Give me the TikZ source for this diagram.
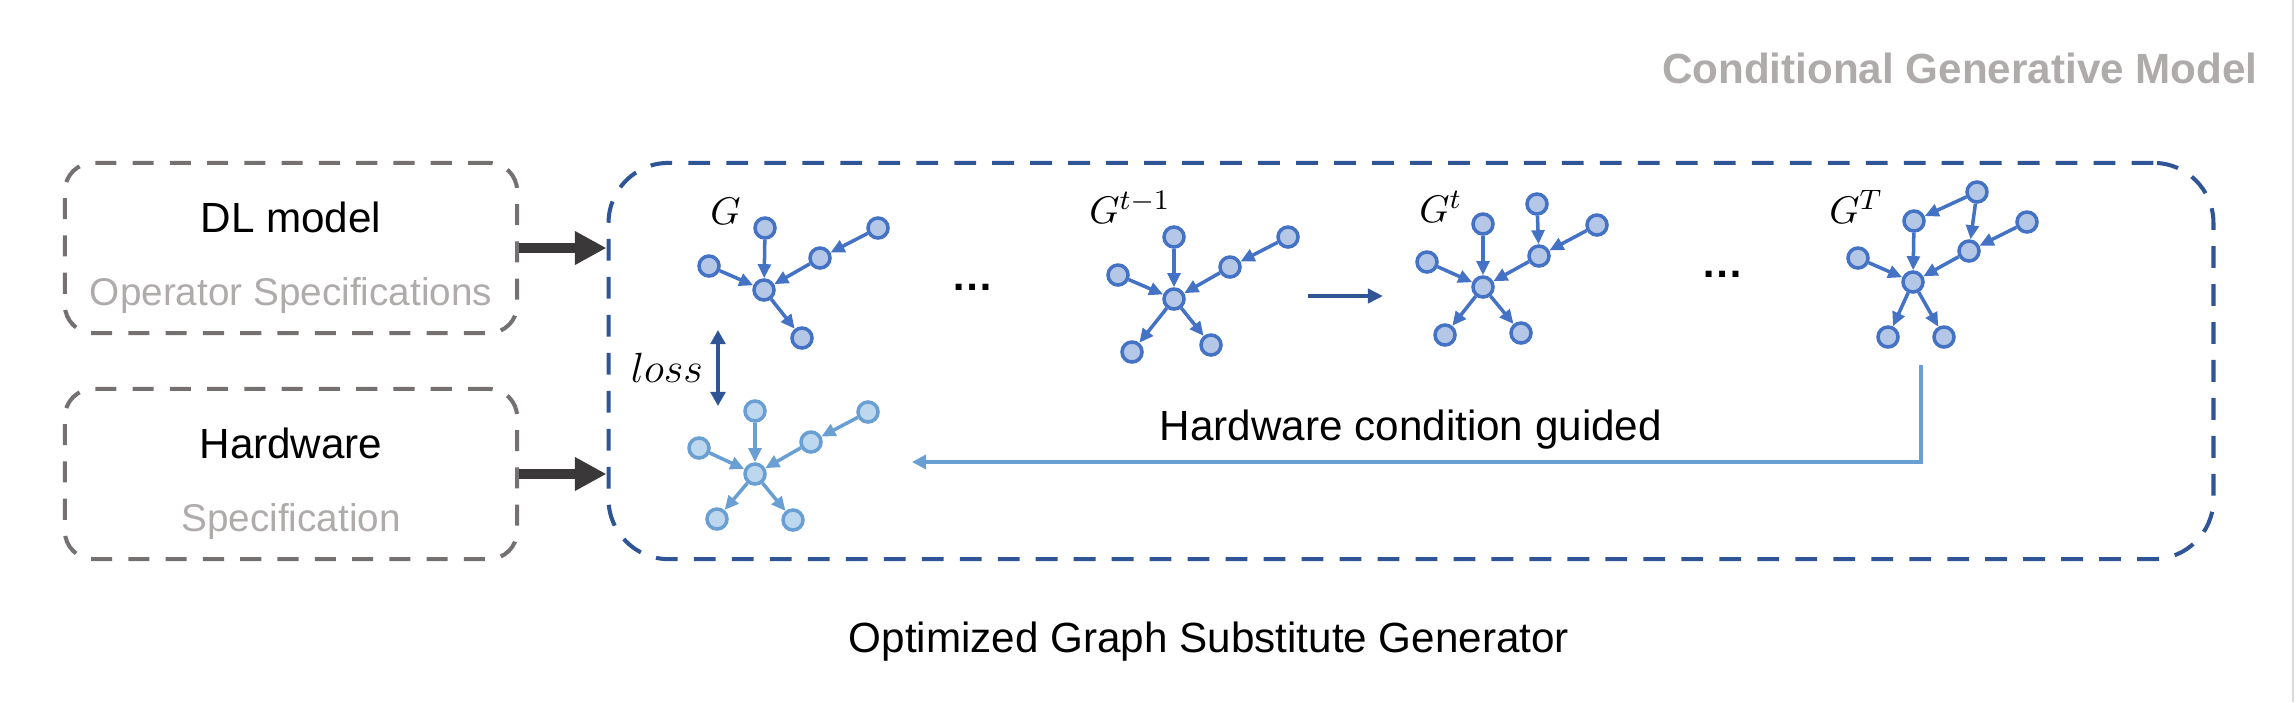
\documentclass[tikz,border=0pt]{standalone}
\usepackage{fontspec}
\setmainfont{Liberation Sans}
\usetikzlibrary{arrows.meta}

\definecolor{boxgray}{RGB}{118,113,113}
\definecolor{textgray}{RGB}{175,171,171}
\definecolor{arrowdark}{RGB}{58,56,56}
\definecolor{darkblue}{RGB}{47,85,151}
\definecolor{nodeblue}{RGB}{68,114,196}
\definecolor{nodefill}{RGB}{180,199,231}
\definecolor{lightline}{RGB}{106,159,212}
\definecolor{lightfill}{RGB}{189,215,238}

\tikzset{
  inbox/.style={draw=boxgray, line width=1.15pt, dash pattern=on 6pt off 4.6pt,
    rounded corners=0.28cm, minimum width=4.52cm, minimum height=1.70cm},
  genbox/.style={draw=darkblue, line width=1.15pt, dash pattern=on 6.2pt off 4.6pt,
    rounded corners=0.6cm, minimum width=16.04cm, minimum height=3.96cm},
  maintext/.style={font=\fontsize{12}{14}\selectfont},
  subtext/.style={font=\fontsize{11}{13}\selectfont, text=textgray},
  glabel/.style={anchor=base west, font=\fontsize{11}{13}\selectfont},
  gnode/.style={circle, draw=nodeblue, fill=nodefill, line width=1pt,
    minimum size=0.2cm, inner sep=0pt},
  lnode/.style={gnode, draw=lightline, fill=lightfill},
  gedge/.style={draw=nodeblue, line width=1pt, -{Triangle[length=4pt,width=3.6pt]}},
  ledge/.style={gedge, draw=lightline},
  feed/.style={draw=arrowdark, line width=3.1pt, -{Triangle[length=9pt,width=9pt]}}
}

\begin{document}
\begin{tikzpicture}[x=0.01cm, y=-0.01cm]
  \useasboundingbox (0,0) rectangle (2296,702);
  \draw[black!14, line width=0.5pt] (2293,0) -- (2293,702);

  % inputs
  \node[inbox] (dl) at (291,248) {};
  \node[inbox] (hw) at (291,474) {};
  \node[maintext, anchor=base] (dlname) at (291,232) {DL model};
  \node[subtext, anchor=base] (dlspec) at (291,305) {Operator Specifications};
  \node[maintext, anchor=base] (hwname) at (291,458) {Hardware};
  \node[subtext, anchor=base] (hwspec) at (291,531) {Specification};

  % generator
  \node[genbox] (gen) at (1411,361) {};
  \node[maintext, anchor=base] (genname) at (1209,652) {Optimized Graph Substitute Generator};
  \node[anchor=base east, text=textgray, font=\fontsize{12}{14}\selectfont\bfseries]
    (cgm) at (2270,83) {Conditional Generative Model};

  \draw[feed] (dl.east) -- (dl.east -| gen.west);
  \draw[feed] (hw.east) -- (hw.east -| gen.west);

  % graph G
  \node[glabel] (lg0) at (698,224) {$G$};
  \node[gnode] (a0) at (764,290) {};
  \node[gnode] (a1) at (765,228) {};
  \node[gnode] (a2) at (709,266) {};
  \node[gnode] (a3) at (820,258) {};
  \node[gnode] (a4) at (878,228) {};
  \node[gnode] (a5) at (802,338) {};
  \foreach \s/\t in {a1/a0, a2/a0, a3/a0, a4/a3, a0/a5}
    \draw[gedge] (\s) -- (\t);

  \node[anchor=base, font=\fontsize{12}{14}\selectfont\bfseries] (dots1) at (973,290) {\ldots};

  % graph G^{t-1}
  \node[glabel] (lg1) at (1077,223) {$G^{t-1}$};
  \node[gnode] (b0) at (1174,299) {};
  \node[gnode] (b1) at (1174,237) {};
  \node[gnode] (b2) at (1118,275) {};
  \node[gnode] (b3) at (1230,267) {};
  \node[gnode] (b4) at (1288,237) {};
  \node[gnode] (b5) at (1132,352) {};
  \node[gnode] (b6) at (1211,345) {};
  \foreach \s/\t in {b1/b0, b2/b0, b3/b0, b4/b3, b0/b5, b0/b6}
    \draw[gedge] (\s) -- (\t);

  \coordinate (stepa) at (1308,296);
  \coordinate (stepb) at (1383,296);
  \draw[draw=darkblue, line width=1.2pt, -{Triangle[length=4.3pt,width=4pt]}] (stepa) -- (stepb);

  % graph G^t
  \node[glabel] (lg2) at (1407,222) {$G^{t}$};
  \node[gnode] (c0) at (1483,287) {};
  \node[gnode] (c1) at (1483,224) {};
  \node[gnode] (c2) at (1537,204) {};
  \node[gnode] (c3) at (1597,225) {};
  \node[gnode] (c4) at (1539,256) {};
  \node[gnode] (c5) at (1427,262) {};
  \node[gnode] (c6) at (1445,335) {};
  \node[gnode] (c7) at (1521,333) {};
  \foreach \s/\t in {c1/c0, c5/c0, c4/c0, c2/c4, c3/c4, c0/c6, c0/c7}
    \draw[gedge] (\s) -- (\t);

  \node[anchor=base, font=\fontsize{12}{14}\selectfont\bfseries] (dots2) at (1723,277) {\ldots};

  % graph G^T
  \node[glabel] (lg3) at (1817,223) {$G^{T}$};
  \node[gnode] (d0) at (1913,282) {};
  \node[gnode] (d1) at (1914,221) {};
  \node[gnode] (d2) at (1977,192) {};
  \node[gnode] (d3) at (2027,222) {};
  \node[gnode] (d4) at (1969,251) {};
  \node[gnode] (d5) at (1858,258) {};
  \node[gnode] (d6) at (1888,337) {};
  \node[gnode] (d7) at (1944,337) {};
  \foreach \s/\t in {d1/d0, d5/d0, d4/d0, d2/d1, d2/d4, d3/d4, d0/d6, d0/d7}
    \draw[gedge] (\s) -- (\t);

  % loss
  \coordinate (losstop) at (718,330);
  \coordinate (lossbot) at (718,406);
  \draw[draw=darkblue, line width=0.9pt, {Triangle[length=4pt,width=4.2pt]}-{Triangle[length=4pt,width=4.2pt]}]
    (losstop) -- (lossbot);
  \node[anchor=base, font=\fontsize{11.5}{13}\selectfont] (loss) at (667,382) {$loss$};

  % generated graph
  \node[lnode] (e0) at (755,474) {};
  \node[lnode] (e1) at (755,411) {};
  \node[lnode] (e2) at (699,448) {};
  \node[lnode] (e3) at (811,442) {};
  \node[lnode] (e4) at (868,412) {};
  \node[lnode] (e5) at (717,519) {};
  \node[lnode] (e6) at (793,520) {};
  \foreach \s/\t in {e1/e0, e2/e0, e3/e0, e4/e3, e0/e5, e0/e6}
    \draw[ledge] (\s) -- (\t);

  % hardware feedback
  \coordinate (fbstart) at (1921,365);
  \coordinate (fbend) at (912,462);
  \draw[draw=lightline, line width=1.15pt, -{Triangle[length=4pt,width=4pt]}]
    (fbstart) |- (fbend);
  \node[maintext, anchor=base] (fblabel) at (1411,440) {Hardware condition guided};
\end{tikzpicture}
\end{document}
